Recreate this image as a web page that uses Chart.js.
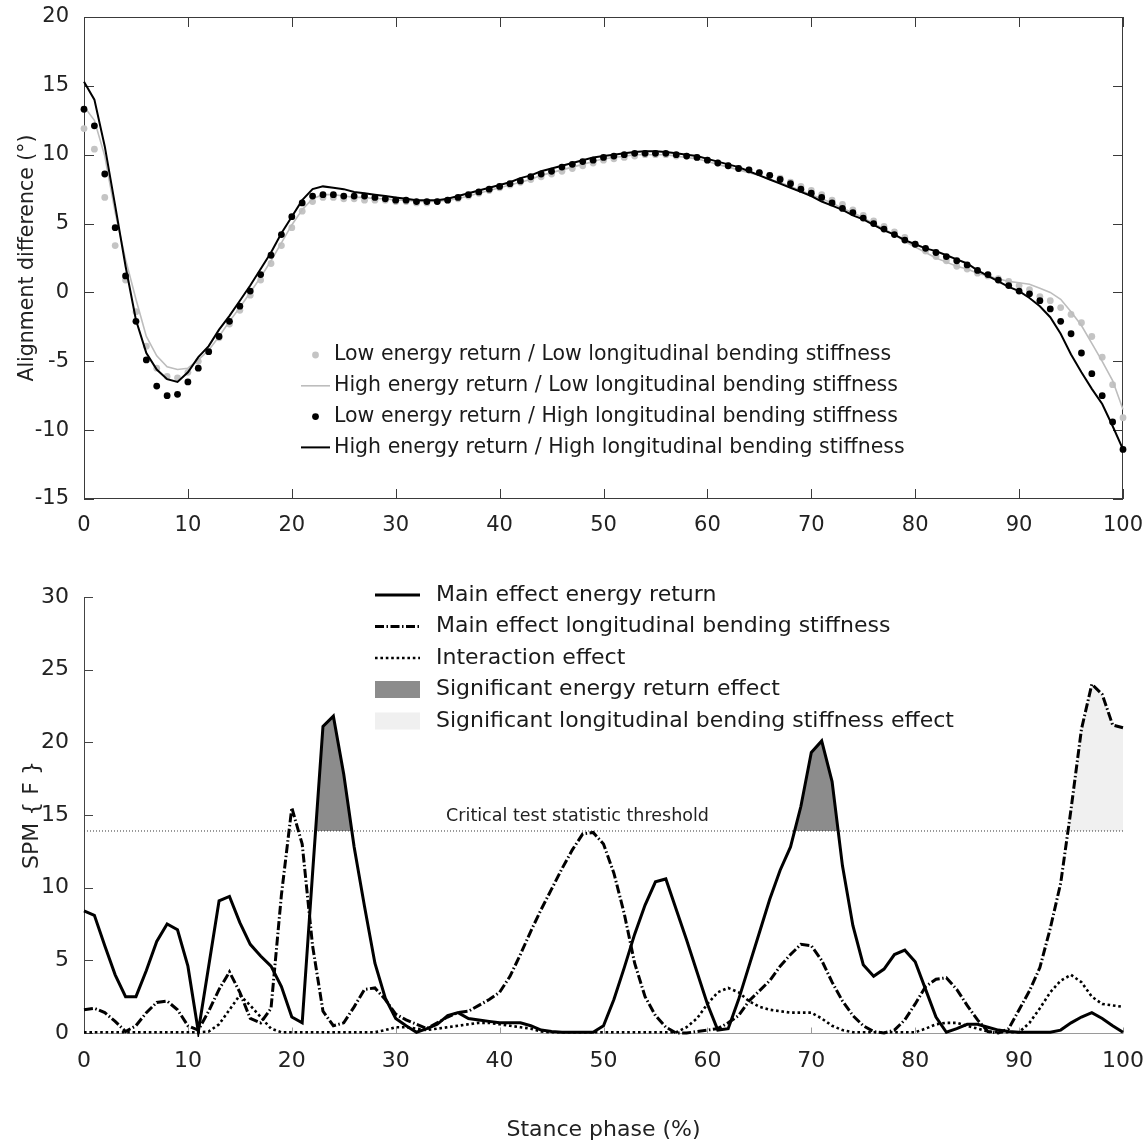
<!DOCTYPE html>
<html>
<head>
<meta charset="utf-8">
<script src="https://cdn.jsdelivr.net/npm/chart.js@4.4.1/dist/chart.umd.min.js"></script>
<style>
  html, body { margin: 0; padding: 0; background: #fff; }
  #topBox { position: absolute; left: 0; top: 0; width: 1148px; height: 545px; }
  #bottomBox { position: absolute; left: 0; top: 545px; width: 1148px; height: 603px; }
</style>
</head>
<body>
<div id="topBox"><canvas id="alignChart" width="1148" height="545"></canvas></div>
<div id="bottomBox"><canvas id="spmChart" width="1148" height="603"></canvas></div>
<script>
// stance phase in %, one sample per percent
const stance = Array.from({ length: 101 }, (_, i) => i);
const phaseTicks = [0, 10, 20, 30, 40, 50, 60, 70, 80, 90, 100];
const alignTicks = [-15, -10, -5, 0, 5, 10, 15, 20];
const spmTicks = [0, 5, 10, 15, 20, 25, 30];

// --- top panel: alignment difference (deg) ---
const lowLow = [
  11.9, 10.4, 6.9, 3.4, 0.9, -1.4, -3.9, -5.5, -6.1, -6.2,
  -5.8, -5.0, -4.3, -3.3, -2.3, -1.3, -0.2, 0.9, 2.1, 3.4,
  4.7, 5.9, 6.6, 6.9, 6.9, 6.8, 6.8, 6.7, 6.7, 6.7,
  6.6, 6.6, 6.5, 6.5, 6.6, 6.7, 6.8, 7.0, 7.2, 7.4,
  7.6, 7.8, 8.0, 8.2, 8.4, 8.6, 8.8, 9.0, 9.2, 9.4,
  9.6, 9.7, 9.8, 9.9, 10.0, 10.0, 10.0, 9.9, 9.9, 9.8,
  9.6, 9.4, 9.2, 9.0, 8.9, 8.7, 8.5, 8.3, 8.0, 7.7,
  7.4, 7.1, 6.7, 6.4, 6.0, 5.6, 5.2, 4.8, 4.4, 4.0,
  3.5, 3.0, 2.6, 2.3, 1.9, 1.7, 1.4, 1.2, 1.0, 0.8,
  0.5, 0.2, -0.3, -0.6, -1.1, -1.6, -2.2, -3.2, -4.7, -6.7, -9.1
];
const highLow = [
  13.5, 12.5, 9.9, 5.8, 2.4, -0.5, -3.2, -4.6, -5.4, -5.6,
  -5.5, -4.9, -4.2, -3.2, -2.1, -1.1, 0.0, 1.1, 2.3, 3.6,
  4.9, 6.0, 6.8, 7.1, 7.1, 7.0, 6.9, 6.9, 6.8, 6.8,
  6.7, 6.7, 6.6, 6.6, 6.6, 6.7, 6.8, 7.0, 7.2, 7.4,
  7.6, 7.8, 8.0, 8.2, 8.5, 8.7, 8.9, 9.1, 9.3, 9.5,
  9.7, 9.8, 9.9, 10.0, 10.0, 10.0, 10.0, 9.9, 9.8, 9.7,
  9.5, 9.3, 9.1, 8.9, 8.7, 8.5, 8.2, 8.0, 7.7, 7.4,
  7.1, 6.8, 6.5, 6.1, 5.8, 5.4, 5.0, 4.6, 4.2, 3.7,
  3.3, 2.9, 2.5, 2.2, 1.9, 1.7, 1.4, 1.2, 1.0, 0.8,
  0.7, 0.6, 0.3, 0.0, -0.5, -1.4, -2.4, -3.7, -5.0, -6.4, -8.5
];
const lowHigh = [
  13.3, 12.1, 8.6, 4.7, 1.2, -2.1, -4.9, -6.8, -7.5, -7.4,
  -6.5, -5.5, -4.3, -3.2, -2.1, -1.0, 0.1, 1.3, 2.7, 4.2,
  5.5, 6.5, 7.0, 7.1, 7.1, 7.0, 7.0, 7.0, 6.9, 6.8,
  6.7, 6.7, 6.6, 6.6, 6.6, 6.7, 6.9, 7.1, 7.3, 7.5,
  7.7, 7.9, 8.1, 8.4, 8.6, 8.8, 9.1, 9.3, 9.5, 9.6,
  9.8, 9.9, 10.0, 10.1, 10.1, 10.1, 10.1, 10.0, 9.9, 9.8,
  9.6, 9.4, 9.2, 9.0, 8.9, 8.7, 8.5, 8.2, 7.9, 7.5,
  7.2, 6.9, 6.5, 6.1, 5.8, 5.4, 5.0, 4.6, 4.2, 3.8,
  3.5, 3.2, 2.9, 2.6, 2.3, 2.0, 1.6, 1.3, 0.9, 0.5,
  0.1, -0.1, -0.6, -1.2, -2.1, -3.0, -4.4, -5.9, -7.5, -9.4, -11.4
];
const highHigh = [
  15.3, 14.0, 10.6, 6.3, 1.9, -2.0, -4.4, -5.6, -6.3, -6.5,
  -5.8, -4.7, -3.9, -2.7, -1.7, -0.6, 0.5, 1.7, 2.9, 4.3,
  5.5, 6.7, 7.5, 7.7, 7.6, 7.5, 7.3, 7.2, 7.1, 7.0,
  6.9, 6.8, 6.7, 6.7, 6.7, 6.8, 7.0, 7.2, 7.4, 7.6,
  7.8, 8.0, 8.3, 8.5, 8.8, 9.0, 9.2, 9.4, 9.6, 9.8,
  9.9, 10.0, 10.1, 10.2, 10.25, 10.25, 10.2, 10.1, 10.0, 9.9,
  9.7, 9.5, 9.3, 9.1, 8.8, 8.5, 8.2, 7.9, 7.6, 7.3,
  7.0, 6.6, 6.3, 6.0, 5.6, 5.3, 4.9, 4.5, 4.2, 3.8,
  3.5, 3.2, 3.0, 2.7, 2.4, 2.1, 1.6, 1.2, 0.8, 0.4,
  0.1, -0.4, -1.0, -1.8, -3.0, -4.5, -5.8, -7.0, -8.1, -9.7, -11.4
];

// --- bottom panel: SPM{F} ---
const energyEffect = [
  8.4, 8.1, 6.0, 4.0, 2.5, 2.5, 4.3, 6.3, 7.5, 7.1,
  4.6, 0.1, 4.6, 9.1, 9.4, 7.6, 6.1, 5.3, 4.6, 3.2,
  1.1, 0.7, 11.0, 21.1, 21.8, 17.8, 12.8, 8.7, 4.8, 2.4,
  1.0, 0.5, 0.05, 0.3, 0.6, 1.2, 1.4, 1.0, 0.9, 0.8,
  0.7, 0.7, 0.7, 0.5, 0.2, 0.1, 0.05, 0.05, 0.05, 0.05,
  0.5, 2.3, 4.5, 6.8, 8.8, 10.4, 10.6, 8.5, 6.4, 4.2,
  2.0, 0.2, 0.3, 2.3, 4.6, 6.9, 9.2, 11.2, 12.8, 15.6,
  19.3, 20.1, 17.3, 11.5, 7.4, 4.7, 3.9, 4.4, 5.4, 5.7,
  4.9, 3.0, 1.1, 0.05, 0.3, 0.6, 0.6, 0.4, 0.2, 0.1,
  0.05, 0.05, 0.05, 0.05, 0.2, 0.7, 1.1, 1.4, 1.0, 0.5, 0.05
];
const stiffnessEffect = [
  1.6, 1.7, 1.4, 0.8, 0.1, 0.5, 1.4, 2.1, 2.2, 1.6,
  0.5, 0.2, 1.5, 3.0, 4.2, 2.8, 1.0, 0.7, 1.7, 9.5,
  15.5, 13.0, 6.0, 1.5, 0.5, 0.7, 1.8, 3.0, 3.1, 2.3,
  1.3, 0.9, 0.6, 0.3, 0.7, 1.1, 1.4, 1.5, 1.9, 2.3,
  2.8, 3.9, 5.4, 7.0, 8.5, 9.9, 11.3, 12.6, 13.7, 13.8,
  13.0, 11.0, 8.2, 4.8, 2.5, 1.2, 0.4, 0.0, 0.0, 0.1,
  0.2, 0.3, 0.7, 1.2, 2.2, 2.9, 3.6, 4.6, 5.4, 6.1,
  6.0, 5.0, 3.5, 2.2, 1.2, 0.5, 0.1, 0.0, 0.2, 0.9,
  2.0, 3.2, 3.7, 3.8, 3.0, 1.9, 0.9, 0.1, 0.0, 0.3,
  1.6, 2.9, 4.5, 7.2, 10.3, 15.4, 20.9, 24.0, 23.3, 21.2, 21.0
];
const interactionEffect = [
  0.05, 0.05, 0.05, 0.05, 0.05, 0.05, 0.05, 0.05, 0.05, 0.05,
  0.05, 0.05, 0.1, 0.6, 1.6, 2.6, 1.9, 1.1, 0.3, 0.05,
  0.05, 0.05, 0.05, 0.05, 0.05, 0.05, 0.05, 0.05, 0.05, 0.2,
  0.4, 0.4, 0.3, 0.2, 0.3, 0.4, 0.5, 0.6, 0.7, 0.7,
  0.6, 0.5, 0.4, 0.3, 0.1, 0.05, 0.05, 0.05, 0.05, 0.05,
  0.05, 0.05, 0.05, 0.05, 0.05, 0.05, 0.05, 0.05, 0.4, 1.0,
  2.0, 2.8, 3.1, 2.8, 2.2, 1.8, 1.6, 1.5, 1.4, 1.4,
  1.4, 1.0, 0.5, 0.2, 0.05, 0.05, 0.05, 0.05, 0.05, 0.05,
  0.05, 0.3, 0.6, 0.7, 0.7, 0.5, 0.3, 0.1, 0.05, 0.05,
  0.05, 0.7, 1.7, 2.8, 3.6, 4.0, 3.5, 2.5, 2.0, 1.9, 1.8
];
const criticalF = 13.9;
const stiffClusterStart = 94; // only the late cluster is marked significant

Chart.defaults.font.family = "'DejaVu Sans', sans-serif";
Chart.defaults.color = '#222';

const fixedTicks = list => scale => { scale.ticks = list.map(v => ({ value: v })); };

// draws the legend inside the plot, styles taken from the datasets
const insideLegend = {
  id: 'insideLegend',
  afterDraw(chart, args, opts) {
    const ctx = chart.ctx;
    ctx.save();
    ctx.font = opts.font;
    ctx.textBaseline = 'middle';
    opts.items.forEach((item, i) => {
      const y = opts.y + i * opts.gap;
      const ds = chart.data.datasets[item.ds];
      const x0 = opts.x0, x1 = opts.x1;
      if (item.kind === 'dot') {
        ctx.fillStyle = ds.pointBackgroundColor;
        ctx.beginPath();
        ctx.arc((x0 + x1) / 2, y, ds.pointRadius, 0, Math.PI * 2);
        ctx.fill();
      } else if (item.kind === 'box') {
        ctx.fillStyle = ds.fill.above;
        ctx.fillRect(x0, y - 8.5, x1 - x0, 17);
      } else {
        ctx.strokeStyle = ds.borderColor;
        ctx.lineWidth = ds.borderWidth;
        ctx.setLineDash(ds.borderDash || []);
        ctx.beginPath();
        ctx.moveTo(x0, y);
        ctx.lineTo(x1, y);
        ctx.stroke();
        ctx.setLineDash([]);
      }
      ctx.fillStyle = '#1a1a1a';
      ctx.fillText(item.label, opts.textX, y);
    });
    ctx.restore();
  }
};

// matlab-like box with inward ticks
const boxAxes = {
  id: 'boxAxes',
  beforeDatasetsDraw(chart) {
    const { ctx, chartArea: a, scales: { x, y } } = chart;
    ctx.save();
    ctx.strokeStyle = '#3a3a3a';
    ctx.lineWidth = 1;
    ctx.strokeRect(a.left + 0.5, a.top + 0.5, a.width - 1, a.height - 1);
    ctx.beginPath();
    x.ticks.forEach(t => {
      const px = Math.round(x.getPixelForValue(t.value)) + 0.5;
      ctx.moveTo(px, a.bottom); ctx.lineTo(px, a.bottom - 10);
      ctx.moveTo(px, a.top); ctx.lineTo(px, a.top + 10);
    });
    y.ticks.forEach(t => {
      const py = Math.round(y.getPixelForValue(t.value)) + 0.5;
      ctx.moveTo(a.left, py); ctx.lineTo(a.left + 10, py);
      ctx.moveTo(a.right, py); ctx.lineTo(a.right - 10, py);
    });
    ctx.stroke();
    ctx.restore();
  }
};

// open axes for the SPM panel plus threshold caption
const openAxes = {
  id: 'openAxes',
  beforeDatasetsDraw(chart) {
    const { ctx, chartArea: a, scales: { x, y } } = chart;
    ctx.save();
    ctx.lineWidth = 1;
    ctx.strokeStyle = '#9a9a9a';
    ctx.beginPath();
    const y0 = Math.round(y.getPixelForValue(0)) + 0.5;
    ctx.moveTo(a.left, y0); ctx.lineTo(a.right, y0);
    x.ticks.forEach(t => {
      const px = Math.round(x.getPixelForValue(t.value)) + 0.5;
      ctx.moveTo(px, y0); ctx.lineTo(px, y0 - 6);
    });
    ctx.stroke();
    ctx.strokeStyle = '#444';
    ctx.beginPath();
    ctx.moveTo(a.left + 0.5, a.top); ctx.lineTo(a.left + 0.5, a.bottom);
    y.ticks.forEach(t => {
      const py = Math.round(y.getPixelForValue(t.value)) + 0.5;
      ctx.moveTo(a.left, py); ctx.lineTo(a.left + 9, py);
    });
    ctx.stroke();
    ctx.fillStyle = '#222';
    ctx.font = "17.5px 'DejaVu Sans'";
    ctx.textAlign = 'center';
    ctx.textBaseline = 'bottom';
    ctx.fillText('Critical test statistic threshold', x.getPixelForValue(47.5), y.getPixelForValue(criticalF) - 6);
    ctx.restore();
  }
};

new Chart(document.getElementById('alignChart'), {
  type: 'line',
  data: {
    labels: stance,
    datasets: [{
      label: 'High energy return / High longitudinal bending stiffness',
      data: highHigh,
      borderColor: '#000',
      borderWidth: 2,
      pointRadius: 0,
      order: 0
    }, {
      label: 'Low energy return / High longitudinal bending stiffness',
      data: lowHigh,
      showLine: false,
      pointRadius: 3.4,
      pointBorderWidth: 0,
      pointBackgroundColor: '#000',
      order: 1
    }, {
      label: 'High energy return / Low longitudinal bending stiffness',
      data: highLow,
      borderColor: '#bdbdbd',
      borderWidth: 1.6,
      pointRadius: 0,
      order: 2
    }, {
      label: 'Low energy return / Low longitudinal bending stiffness',
      data: lowLow,
      showLine: false,
      pointRadius: 3.4,
      pointBorderWidth: 0,
      pointBackgroundColor: '#c4c4c4',
      order: 3
    }]
  },
  options: {
    responsive: false,
    animation: false,
    clip: false,
    layout: { padding: { top: 17, right: 25, left: 0, bottom: 0 } },
    scales: {
      x: {
        type: 'linear', min: 0, max: 100,
        afterBuildTicks: fixedTicks(phaseTicks),
        afterFit: s => { s.height = 46; s.paddingLeft = 0; s.paddingRight = 0; },
        grid: { display: false }, border: { display: false },
        ticks: { padding: 6, font: { size: 21 }, maxRotation: 0, autoSkip: false }
      },
      y: {
        min: -15, max: 20,
        afterBuildTicks: fixedTicks(alignTicks),
        afterFit: s => { s.width = 84; s.paddingTop = 0; s.paddingBottom = 0; },
        grid: { display: false }, border: { display: false },
        ticks: { padding: 7, font: { size: 21 } },
        title: { display: true, text: 'Alignment difference (°)', font: { size: 20.5 }, padding: { top: 15, bottom: 0 } }
      }
    },
    plugins: {
      legend: { display: false },
      tooltip: { enabled: false },
      insideLegend: {
        font: "20.5px 'DejaVu Sans'",
        x0: 301, x1: 330, textX: 334, y: 355, gap: 30.8,
        items: [
          { ds: 3, kind: 'dot', label: 'Low energy return / Low longitudinal bending stiffness' },
          { ds: 2, kind: 'line', label: 'High energy return / Low longitudinal bending stiffness' },
          { ds: 1, kind: 'dot', label: 'Low energy return / High longitudinal bending stiffness' },
          { ds: 0, kind: 'line', label: 'High energy return / High longitudinal bending stiffness' }
        ]
      }
    }
  },
  plugins: [boxAxes, insideLegend]
});

new Chart(document.getElementById('spmChart'), {
  type: 'line',
  data: {
    labels: stance,
    datasets: [{
      label: 'Main effect energy return',
      data: energyEffect,
      borderColor: '#000',
      borderWidth: 3,
      pointRadius: 0,
      order: 1
    }, {
      label: 'Main effect longitudinal bending stiffness',
      data: stiffnessEffect,
      borderColor: '#000',
      borderWidth: 3,
      borderDash: [9, 2.5, 1.5, 2.5],
      pointRadius: 0,
      order: 2
    }, {
      label: 'Interaction effect',
      data: interactionEffect,
      borderColor: '#000',
      borderWidth: 2.6,
      borderDash: [2.6, 2.8],
      pointRadius: 0,
      order: 3
    }, {
      label: 'Significant energy return effect',
      data: energyEffect,
      borderWidth: 0,
      pointRadius: 0,
      fill: { target: { value: criticalF }, above: '#8c8c8c', below: 'rgba(0,0,0,0)' },
      order: 10
    }, {
      label: 'Significant longitudinal bending stiffness effect',
      data: stiffnessEffect.map((v, i) => i >= stiffClusterStart ? v : null),
      borderWidth: 0,
      pointRadius: 0,
      fill: { target: { value: criticalF }, above: '#f0f0f0', below: 'rgba(0,0,0,0)' },
      order: 11
    }, {
      label: 'Critical threshold',
      data: stance.map(() => criticalF),
      borderColor: '#333',
      borderWidth: 1,
      borderDash: [1, 2],
      pointRadius: 0,
      order: 4
    }]
  },
  options: {
    responsive: false,
    animation: false,
    clip: 4,
    layout: { padding: { top: 52, right: 25, left: 0, bottom: 0 } },
    scales: {
      x: {
        type: 'linear', min: 0, max: 100,
        afterBuildTicks: fixedTicks(phaseTicks),
        afterFit: s => { s.height = 115; s.paddingLeft = 0; s.paddingRight = 0; },
        grid: { display: false }, border: { display: false },
        ticks: { padding: 7, font: { size: 22 }, maxRotation: 0, autoSkip: false },
        title: { display: true, text: 'Stance phase (%)', font: { size: 22 }, padding: { top: 0, bottom: 5 } }
      },
      y: {
        min: 0, max: 30,
        afterBuildTicks: fixedTicks(spmTicks),
        afterFit: s => { s.width = 84; s.paddingTop = 0; s.paddingBottom = 0; },
        grid: { display: false }, border: { display: false },
        ticks: { padding: 7, font: { size: 22 } },
        title: { display: true, text: 'SPM { F }', font: { size: 22 }, padding: { top: 19, bottom: 0 } }
      }
    },
    plugins: {
      legend: { display: false },
      tooltip: { enabled: false },
      insideLegend: {
        font: "22px 'DejaVu Sans'",
        x0: 375, x1: 420, textX: 436, y: 50, gap: 31.5,
        items: [
          { ds: 0, kind: 'line', label: 'Main effect energy return' },
          { ds: 1, kind: 'line', label: 'Main effect longitudinal bending stiffness' },
          { ds: 2, kind: 'line', label: 'Interaction effect' },
          { ds: 3, kind: 'box', label: 'Significant energy return effect' },
          { ds: 4, kind: 'box', label: 'Significant longitudinal bending stiffness effect' }
        ]
      }
    }
  },
  plugins: [openAxes, insideLegend]
});
</script>
</body>
</html>
